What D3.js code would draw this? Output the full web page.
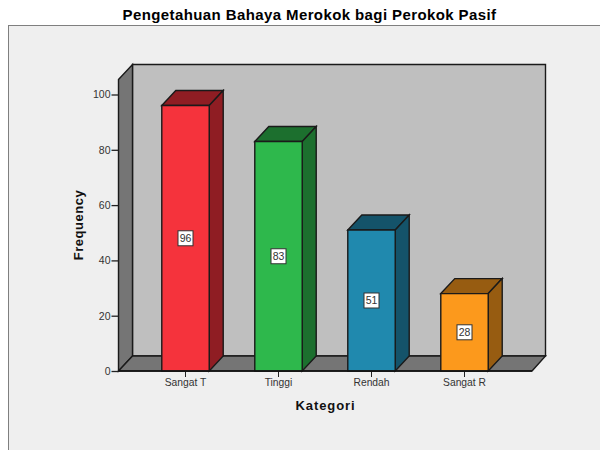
<!DOCTYPE html>
<html><head><meta charset="utf-8">
<script src="https://cdn.jsdelivr.net/npm/d3@7/dist/d3.min.js"></script>
<style>html,body{margin:0;padding:0;background:#fff}svg{display:block}text{font-family:"Liberation Sans",Arial,sans-serif}</style>
</head><body><div id="c"></div>
<script>
const categories=["Sangat T","Tinggi","Rendah","Sangat R"];
const values=[96,83,51,28];
const yTicks=[0,20,40,60,80,100];
const faceColors=["#f5333c","#2eb84c","#2089ae","#fc991c"];
const topColors=["#8f1d23","#1c6f2e","#14536a","#975c11"];
const title="Pengetahuan Bahaya Merokok bagi Perokok Pasif";
const xTitle="Kategori", yTitle="Frequency";

const svg=d3.select("#c").append("svg").attr("width",600).attr("height",450);
const y=d3.scaleLinear().domain([0,100]).range([371,94.5]);
const x=d3.scaleBand().domain(categories).range([139,511]).paddingInner(0.49).paddingOuter(0.245);
const dx=14,dy=15,L=118.5,R=532,base=y(0),top0=79.5;
const line=d3.line();
const poly=(pts,fill,sw=1.4,stroke="#1a1a1a")=>svg.append("path").attr("d",line(pts)+"Z").attr("fill",fill).attr("stroke",stroke).attr("stroke-width",sw).attr("stroke-linejoin","miter");

svg.append("rect").attr("x",8.5).attr("y",25.5).attr("width",600).attr("height",440).attr("fill","#efefef").attr("stroke","#7f7f7f").attr("stroke-width",1);
svg.append("text").attr("x",309.5).attr("y",20).attr("text-anchor","middle").attr("font-size",15).attr("font-weight","bold").attr("letter-spacing",0.4).attr("fill","#000").text(title);

// back wall, side wall, floor
poly([[L+dx,top0-dy],[R+dx-.5,top0-dy],[R+dx-.5,base-dy],[L+dx,base-dy]],"#bfbfbf");
poly([[L,top0],[L+dx,top0-dy],[L+dx,base-dy],[L,base]],"#757575");
poly([[L,base],[L+dx,base-dy],[R+dx-.5,base-dy],[R,base]],"#757575");

// axes
const yAxis=svg.append("g").attr("transform",`translate(${L},0)`).call(d3.axisLeft(y).tickValues(yTicks).tickSize(7).tickPadding(1).tickFormat(d3.format("d")));
yAxis.select(".domain").remove();
yAxis.selectAll("line").attr("stroke","#222").attr("stroke-width",1.3);
yAxis.selectAll("text").attr("font-size",10.5).attr("fill","#333");
const xAxis=svg.append("g").attr("transform",`translate(0,${base})`).call(d3.axisBottom(x).tickSize(6).tickPadding(2));
xAxis.select(".domain").remove();
xAxis.selectAll("line").attr("stroke","#222").attr("stroke-width",1);
xAxis.selectAll("text").attr("font-size",10.3).attr("fill","#333");

// bars
categories.forEach((c,i)=>{
  const x0=x(c),x1=x0+x.bandwidth(),yt=y(values[i]);
  poly([[x0,yt],[x0+dx,yt-dy],[x1+dx,yt-dy],[x1,yt]],topColors[i]);
  poly([[x1,yt],[x1+dx,yt-dy],[x1+dx,base-dy],[x1,base]],topColors[i]);
  poly([[x0,yt],[x1,yt],[x1,base],[x0,base]],faceColors[i]);
  const cx=x0+x.bandwidth()/2, cy=y(values[i]/2);
  svg.append("rect").attr("x",cx-7.5).attr("y",cy-7.5).attr("width",15).attr("height",15).attr("fill","#fff").attr("stroke","#333").attr("stroke-width",1);
  svg.append("text").attr("x",cx).attr("y",cy+4).attr("text-anchor","middle").attr("font-size",10.5).attr("fill","#333").text(values[i]);
});

svg.append("path").attr("d",line([[L,base],[R,base]])).attr("stroke","#111").attr("stroke-width",1.5);
svg.append("text").attr("x",325.5).attr("y",410).attr("text-anchor","middle").attr("font-size",13).attr("font-weight","bold").attr("letter-spacing",0.9).attr("fill","#111").text(xTitle);
svg.append("text").attr("transform","translate(83,225) rotate(-90)").attr("text-anchor","middle").attr("font-size",13).attr("font-weight","bold").attr("letter-spacing",0.5).attr("fill","#111").text(yTitle);
</script></body></html>
